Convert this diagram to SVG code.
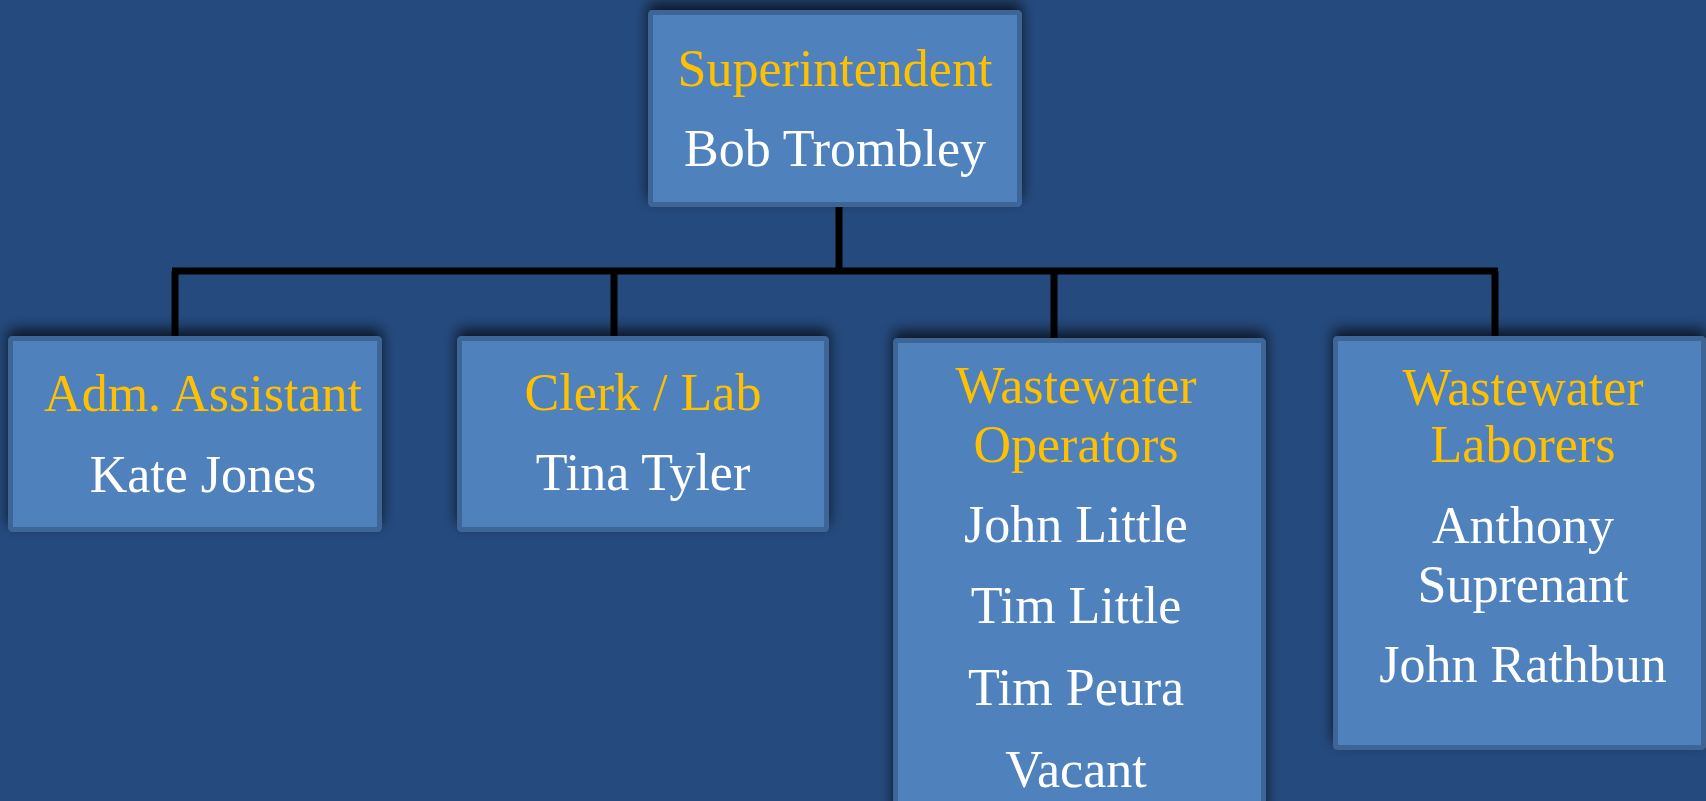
<svg xmlns="http://www.w3.org/2000/svg" width="1706" height="801" viewBox="0 0 1706 801">
<defs>
<filter id="sh" x="-10%" y="-20%" width="120%" height="140%">
<feGaussianBlur in="SourceAlpha" stdDeviation="7"/>
<feOffset dx="0" dy="-7" result="b"/>
<feComponentTransfer><feFuncA type="linear" slope="0.7"/></feComponentTransfer>
<feMerge><feMergeNode/><feMergeNode in="SourceGraphic"/></feMerge>
</filter>
</defs>
<style>
.box{fill:#4F81BD;stroke:#3E6596;stroke-width:5;filter:url(#sh)}
.t{font-family:"Liberation Serif","Times New Roman",serif;font-size:52px;text-anchor:middle}
.h{fill:#FFC000}
.n{fill:#FFFFFF}
.ln{stroke:#000;stroke-width:7;fill:none}
</style>
<rect width="1706" height="801" fill="#254A7D"/>
<g id="connectors">
<path class="ln" d="M839,207 V271 M172,271 H1498 M175,271 V336 M614,271 V336 M1054,271 V338 M1495,271 V336"/>
</g>
<g id="superintendent">
<rect class="box" x="650.5" y="12.5" width="369" height="192" rx="2"/>
<text class="t h" x="835" y="86">Superintendent</text>
<text class="t n" x="835" y="166">Bob Trombley</text>
</g>
<g id="adm-assistant">
<rect class="box" x="10.5" y="338.5" width="369" height="191" rx="2"/>
<text class="t h" x="203" y="411">Adm. Assistant</text>
<text class="t n" x="203" y="492">Kate Jones</text>
</g>
<g id="clerk-lab">
<rect class="box" x="459.5" y="338.5" width="367" height="191" rx="2"/>
<text class="t h" x="643" y="410">Clerk / Lab</text>
<text class="t n" x="643" y="490">Tina Tyler</text>
</g>
<g id="operators">
<rect class="box" x="895.5" y="340.5" width="368" height="480" rx="2"/>
<text class="t h" x="1076" y="403">Wastewater</text>
<text class="t h" x="1076" y="462">Operators</text>
<text class="t n" x="1076" y="542">John Little</text>
<text class="t n" x="1076" y="623">Tim Little</text>
<text class="t n" x="1076" y="705">Tim Peura</text>
<text class="t n" x="1076" y="787">Vacant</text>
</g>
<g id="laborers">
<rect class="box" x="1335.5" y="338.5" width="368" height="409" rx="2"/>
<text class="t h" x="1523" y="405">Wastewater</text>
<text class="t h" x="1523" y="462">Laborers</text>
<text class="t n" x="1523" y="543">Anthony</text>
<text class="t n" x="1523" y="602">Suprenant</text>
<text class="t n" x="1523" y="682">John Rathbun</text>
</g>
</svg>
